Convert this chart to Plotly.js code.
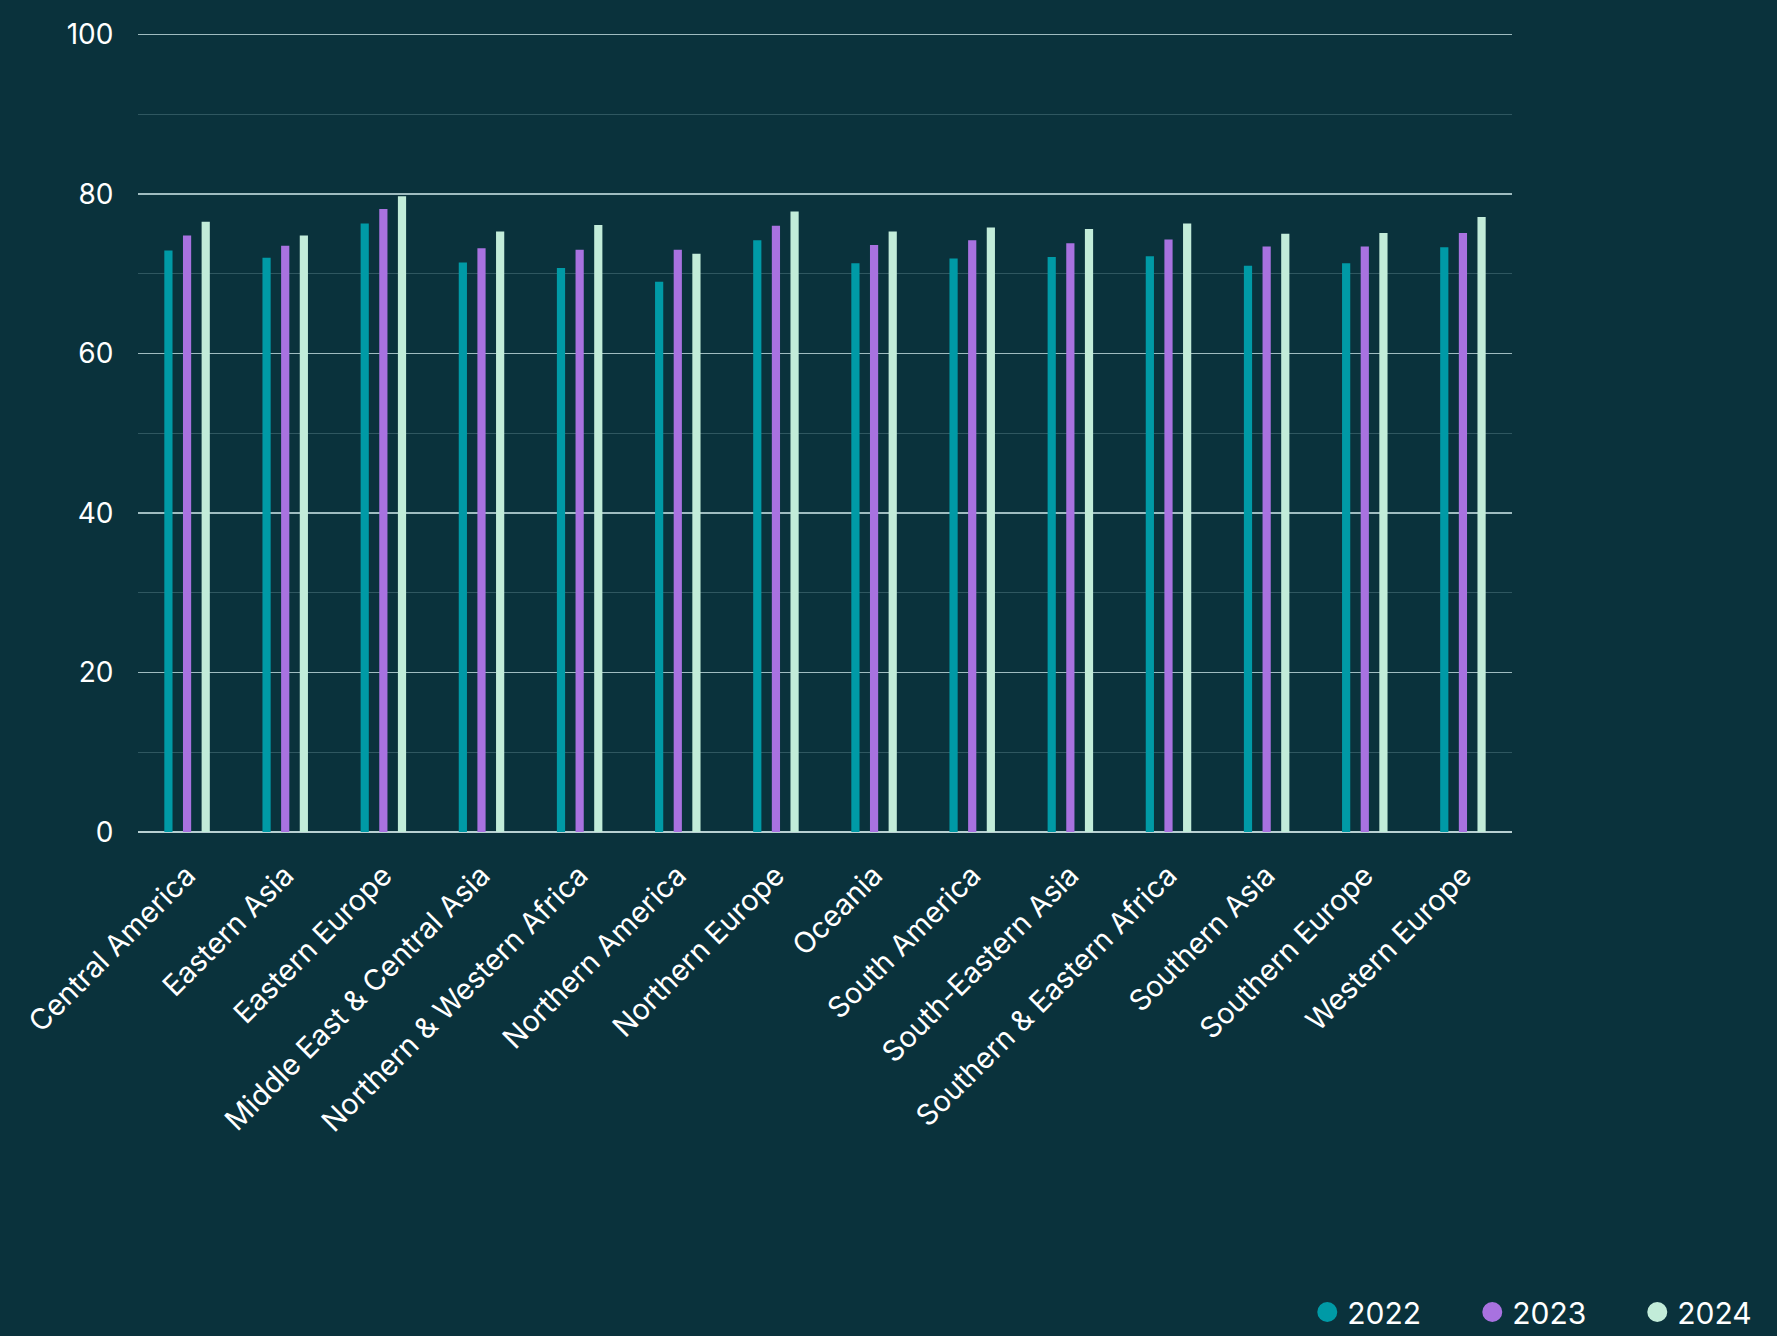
<!DOCTYPE html>
<html>
<head>
<meta charset="utf-8">
<script src="https://cdn.plot.ly/plotly-3.0.1.min.js"></script>
<style>
html,body{margin:0;padding:0;background:#0a323c;overflow:hidden;}
#chart{width:1777px;height:1336px;}
</style>
</head>
<body>
<div id="chart"></div>
<script>
const regions = ["Central America","Eastern Asia","Eastern Europe","Middle East & Central Asia","Northern & Western Africa","Northern America","Northern Europe","Oceania","South America","South-Eastern Asia","Southern & Eastern Africa","Southern Asia","Southern Europe","Western Europe"];
const values2022 = [72.9,72.0,76.3,71.4,70.7,69.0,74.2,71.3,71.9,72.1,72.2,71.0,71.3,73.3];
const values2023 = [74.8,73.5,78.1,73.2,73.0,73.0,76.0,73.6,74.2,73.8,74.3,73.4,73.4,75.1];
const values2024 = [76.5,74.8,79.7,75.3,76.1,72.5,77.8,75.3,75.8,75.6,76.3,75.0,75.1,77.1];
const seriesNames = ["2022","2023","2024"];
const seriesColors = ["#009aa6","#a872e0","#c2ecd9"];
const yTicks = [0,20,40,60,80,100];

const seriesValues = [values2022, values2023, values2024];
const traces = [];
seriesValues.forEach((vals, i) => {
  traces.push({type:'bar', x:regions, y:vals, name:seriesNames[i], marker:{color:seriesColors[i]}, showlegend:false});
});
seriesNames.forEach((n, i) => {
  traces.push({type:'scatter', mode:'markers', x:[null], y:[null], name:n, marker:{color:seriesColors[i], size:22, symbol:'circle', line:{color:seriesColors[i], width:4}}, showlegend:true, hoverinfo:'skip'});
});

const layout = {
  width:1777, height:1336,
  paper_bgcolor:'#0a323c', plot_bgcolor:'#0a323c',
  font:{family:'Inter, "Open Sans", sans-serif', color:'#ffffff', size:28},
  margin:{l:138, r:265, t:32, b:504, autoexpand:false},
  barmode:'group', bargap:0.43, bargroupgap:0.56,
  showlegend:true,
  legend:{orientation:'h', x:0.851, xanchor:'left', y:-0.6, yanchor:'middle', font:{size:30, color:'#ffffff'}, bgcolor:'rgba(0,0,0,0)', itemsizing:'trace', entrywidth:120, traceorder:'normal'},
  xaxis:{type:'category', tickangle:-45, showgrid:false, zeroline:false, showline:false, ticks:'outside', ticklen:14, tickcolor:'rgba(0,0,0,0)', tickfont:{size:29, color:'#ffffff'}, fixedrange:true},
  yaxis:{range:[0,100.3], tickvals:yTicks, showgrid:true, gridcolor:'#9fbcc0', gridwidth:1.2, zeroline:true, zerolinecolor:'#b8d0d2', zerolinewidth:1.5, showline:false, ticks:'outside', ticklen:18, tickcolor:'rgba(0,0,0,0)', tickfont:{size:28, color:'#ffffff'},
    minor:{dtick:10, showgrid:true, gridcolor:'#2f5760', gridwidth:1}},
};
Plotly.newPlot('chart', traces, layout, {displayModeBar:false, staticPlot:true});
</script>
</body>
</html>
